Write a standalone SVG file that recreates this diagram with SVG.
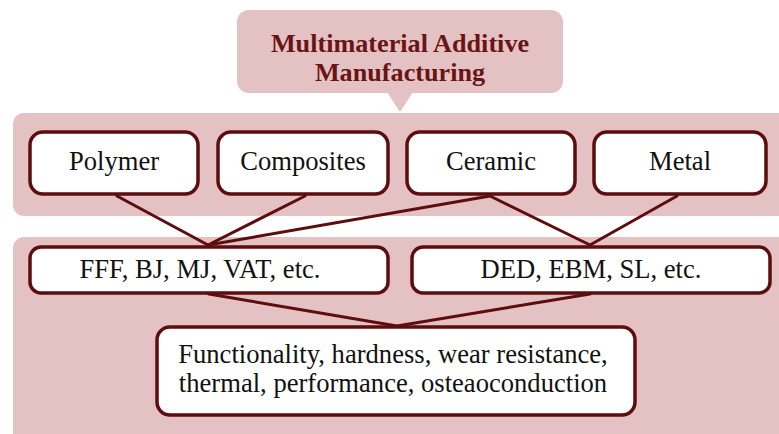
<svg xmlns="http://www.w3.org/2000/svg" width="779" height="434" viewBox="0 0 779 434">
  <style>
    .band { fill: #e4c2c3; }
    .box { fill: #ffffff; stroke: #5e0d0f; stroke-width: 3.5; }
    .link { stroke: #5e0d0f; stroke-width: 3; fill: none; stroke-linecap: round; }
    .label { font-family: "Liberation Serif", "Times New Roman", serif; font-size: 26.6px; fill: #111111; text-anchor: middle; }
    .title { font-family: "Liberation Serif", "Times New Roman", serif; font-size: 26.2px; font-weight: bold; fill: #6b1416; text-anchor: middle; }
  </style>

  <!-- background bands -->
  <rect class="band" x="13" y="113" width="790" height="103" rx="11"/>
  <rect class="band" x="13" y="237" width="790" height="220" rx="11"/>

  <!-- title callout -->
  <g id="title">
    <rect class="band" x="237" y="10" width="326" height="83" rx="12"/>
    <polygon class="band" points="387,92 413,92 400,112"/>
    <text class="title" x="400" y="52">Multimaterial Additive</text>
    <text class="title" x="400" y="81">Manufacturing</text>
  </g>

  <!-- connectors -->
  <g id="connectors">
    <line class="link" x1="117" y1="196" x2="208" y2="245"/>
    <line class="link" x1="305" y1="196" x2="208" y2="245"/>
    <line class="link" x1="490" y1="196" x2="208" y2="245"/>
    <line class="link" x1="490" y1="196" x2="590" y2="245"/>
    <line class="link" x1="677" y1="196" x2="590" y2="245"/>
    <line class="link" x1="209" y1="294" x2="397" y2="326"/>
    <line class="link" x1="590" y1="294" x2="397" y2="326"/>
  </g>

  <g id="polymer">
    <rect class="box" x="30" y="132" width="168" height="62" rx="13"/>
    <text class="label" x="114" y="170">Polymer</text>
  </g>
  <g id="composites">
    <rect class="box" x="218" y="132" width="170" height="62" rx="13"/>
    <text class="label" x="303" y="170">Composites</text>
  </g>
  <g id="ceramic">
    <rect class="box" x="407" y="132" width="168" height="62" rx="13"/>
    <text class="label" x="491" y="170">Ceramic</text>
  </g>
  <g id="metal">
    <rect class="box" x="594" y="132" width="172" height="62" rx="13"/>
    <text class="label" x="680" y="170">Metal</text>
  </g>

  <g id="polymer-processes">
    <rect class="box" x="30" y="247" width="358" height="46" rx="11"/>
    <text class="label" x="200" y="278">FFF, BJ, MJ, VAT, etc.</text>
  </g>
  <g id="metal-processes">
    <rect class="box" x="412" y="247" width="358" height="46" rx="11"/>
    <text class="label" x="591" y="278">DED, EBM, SL, etc.</text>
  </g>

  <g id="properties">
    <rect class="box" x="157" y="327" width="478" height="88" rx="13"/>
    <text class="label" x="393" y="363">Functionality, hardness, wear resistance,</text>
    <text class="label" x="393" y="392">thermal, performance, osteaoconduction</text>
  </g>
</svg>
